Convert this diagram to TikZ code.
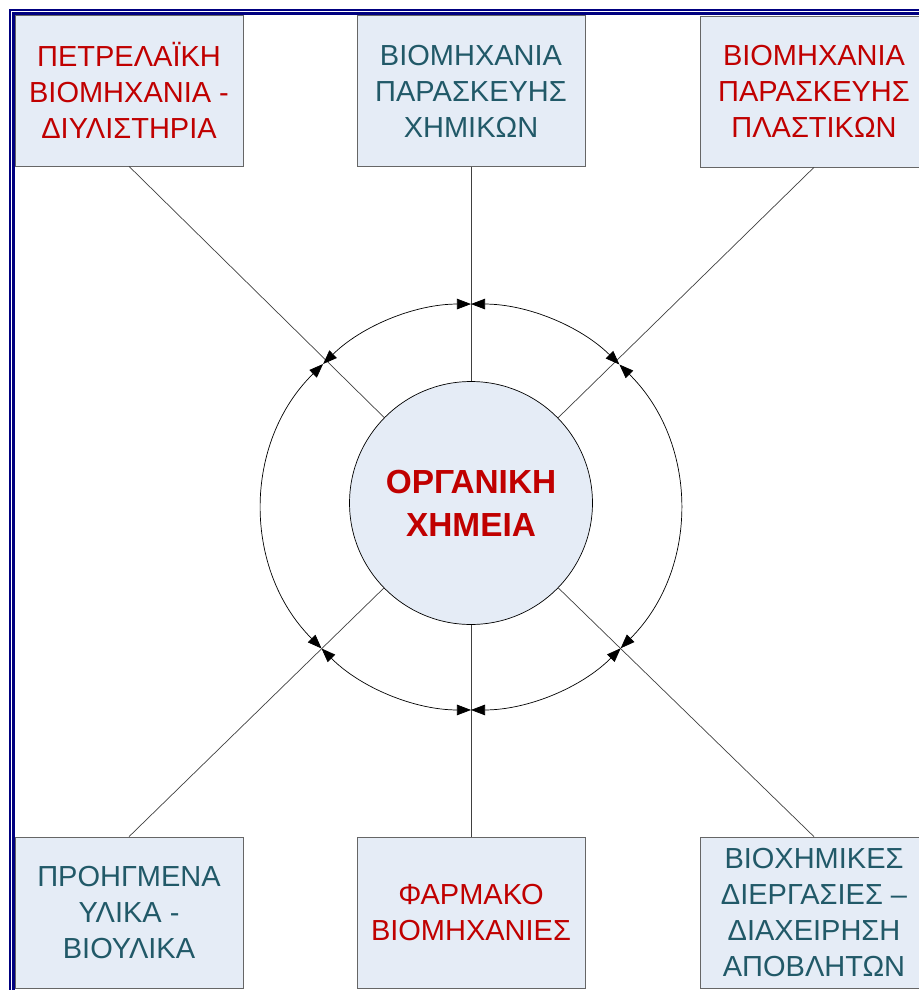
\documentclass[tikz,border=0pt]{standalone}
\usepackage{fontspec}
\setmainfont{Liberation Sans}
\usetikzlibrary{arrows.meta}
\definecolor{boxfill}{HTML}{E5ECF6}
\definecolor{redtext}{HTML}{C00000}
\definecolor{tealtext}{HTML}{215968}
\definecolor{framecol}{HTML}{000080}

\begin{document}
\begin{tikzpicture}[x=0.02cm, y=-0.02cm,
    field/.style={draw=black!60, fill=boxfill, minimum width=4.56cm, minimum height=3.02cm,
      align=center, inner sep=0pt, font=\fontsize{16.5}{20.5}\selectfont},
    hot/.style={field, text=redtext},
    cool/.style={field, text=tealtext},
    spoke/.style={black!75},
    ring/.style={{Triangle[length=8pt,width=6pt]}-{Triangle[length=8pt,width=6pt]}}]
    \clip (0,0) rectangle (919,990);
    \draw[framecol, line width=1.2pt] (10,10) rectangle (960,1030);
    \draw[framecol, line width=1.2pt] (13.5,13.5) rectangle (960,1030);
    % boxes
    \node[hot]  (petrol)  at (129,90.5)  {ΠΕΤΡΕΛΑΪΚΗ\\ΒΙΟΜΗΧΑΝΙΑ -\\ΔΙΥΛΙΣΤΗΡΙΑ};
    \node[cool] (chem)    at (471,91)    {ΒΙΟΜΗΧΑΝΙΑ\\ΠΑΡΑΣΚΕΥΗΣ\\ΧΗΜΙΚΩΝ};
    \node[hot]  (plast)   at (814,91.5)  {ΒΙΟΜΗΧΑΝΙΑ\\ΠΑΡΑΣΚΕΥΗΣ\\ΠΛΑΣΤΙΚΩΝ};
    \node[cool] (mater)   at (129,912.5) {ΠΡΟΗΓΜΕΝΑ\\ΥΛΙΚΑ -\\ΒΙΟΥΛΙΚΑ};
    \node[hot]  (pharma)  at (471,912.5) {ΦΑΡΜΑΚΟ\\ΒΙΟΜΗΧΑΝΙΕΣ};
    \node[cool] (biochem) at (814,912.5) {ΒΙΟΧΗΜΙΚΕΣ\\ΔΙΕΡΓΑΣΙΕΣ –\\ΔΙΑΧΕΙΡΗΣΗ\\ΑΠΟΒΛΗΤΩΝ};
    % centre
    \node[circle, draw, fill=boxfill, minimum size=4.86cm, align=center, text=redtext,
      font=\fontsize{19}{24.5}\selectfont\bfseries] (org) at (471,503) {ΟΡΓΑΝΙΚΗ\\ΧΗΜΕΙΑ};
    \coordinate (hub) at (471,507);
    \foreach \b/\a in {petrol/south, chem/south, plast/south, mater/north, pharma/north, biochem/north}
      \draw[spoke] (\b.\a) -- (org);
    % ring arcs
    \foreach \s/\e in {44.6/90, 90/135.2, 135.2/224.2, 224.2/270, 270/315.9, 315.9/404.6}
      \draw[ring] ([shift={(\s:4.17cm and 4.06cm)}]hub) arc[start angle=\s, end angle=\e, x radius=4.17cm, y radius=4.06cm];
\end{tikzpicture}
\end{document}
